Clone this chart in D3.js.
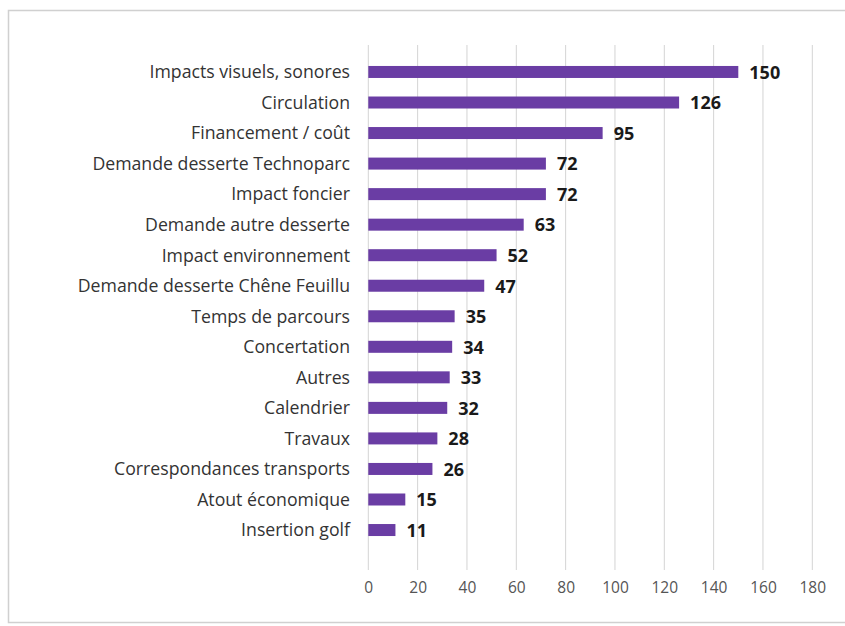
<!DOCTYPE html>
<html><head><meta charset="utf-8">
<script src="https://cdn.jsdelivr.net/npm/d3@7"></script>
<style>body{margin:0;background:#fff}</style>
</head><body>
<svg id="c" width="845" height="626"></svg>
<script>
const categories = ["Impacts visuels, sonores","Circulation","Financement / coût","Demande desserte Technoparc","Impact foncier","Demande autre desserte","Impact environnement","Demande desserte Chêne Feuillu","Temps de parcours","Concertation","Autres","Calendrier","Travaux","Correspondances transports","Atout économique","Insertion golf"];
const values = [150,126,95,72,72,63,52,47,35,34,33,32,28,26,15,11];
const ticks = [0,20,40,60,80,100,120,140,160,180];

const svg = d3.select("#c");
svg.append("rect").attr("x",8.5).attr("y",10.5).attr("width",845).attr("height",612)
  .attr("fill","#fff").attr("stroke","#d0d0d0").attr("stroke-width",1.5);

const x = d3.scaleLinear().domain([0,180]).range([368.3,812.3]);
const y = d3.scaleBand().domain(categories).range([56.7,545.3]).paddingInner(0.6).paddingOuter(0.3);

const grid = svg.append("g");
grid.selectAll("line").data(ticks).join("line")
  .attr("x1",d=>x(d)).attr("x2",d=>x(d)).attr("y1",45).attr("y2",570)
  .attr("stroke","#d4d4d4").attr("stroke-width",1);

const ax = svg.append("g").attr("transform","translate(0,570)")
  .call(d3.axisBottom(x).tickValues(ticks).tickSize(0).tickPadding(12));
ax.select(".domain").remove();
ax.selectAll("text").attr("font-family","'Open Sans', sans-serif").attr("font-size",15.5).attr("fill","#555");

const yc = d => y(d) + y.bandwidth()/2;
svg.append("g").selectAll("rect").data(categories).join("rect")
  .attr("x",x(0)).attr("y",d=>yc(d)-6).attr("height",12)
  .attr("width",(d,i)=>x(values[i])-x(0)).attr("fill","#6a3da4");

svg.append("g").selectAll("text").data(categories).join("text")
  .attr("x",350).attr("y",d=>yc(d)).attr("dy","0.36em").attr("text-anchor","end")
  .attr("font-family","'Open Sans', sans-serif").attr("font-size",17.7).attr("fill","#333")
  .text(d=>d);

svg.append("g").selectAll("text").data(categories).join("text")
  .attr("x",(d,i)=>x(values[i])+11).attr("y",d=>yc(d)).attr("dy","0.38em")
  .attr("font-family","'Open Sans', sans-serif").attr("font-weight","bold").attr("font-size",18).attr("fill","#1a1a1a")
  .text((d,i)=>values[i]);
</script>
</body></html>
